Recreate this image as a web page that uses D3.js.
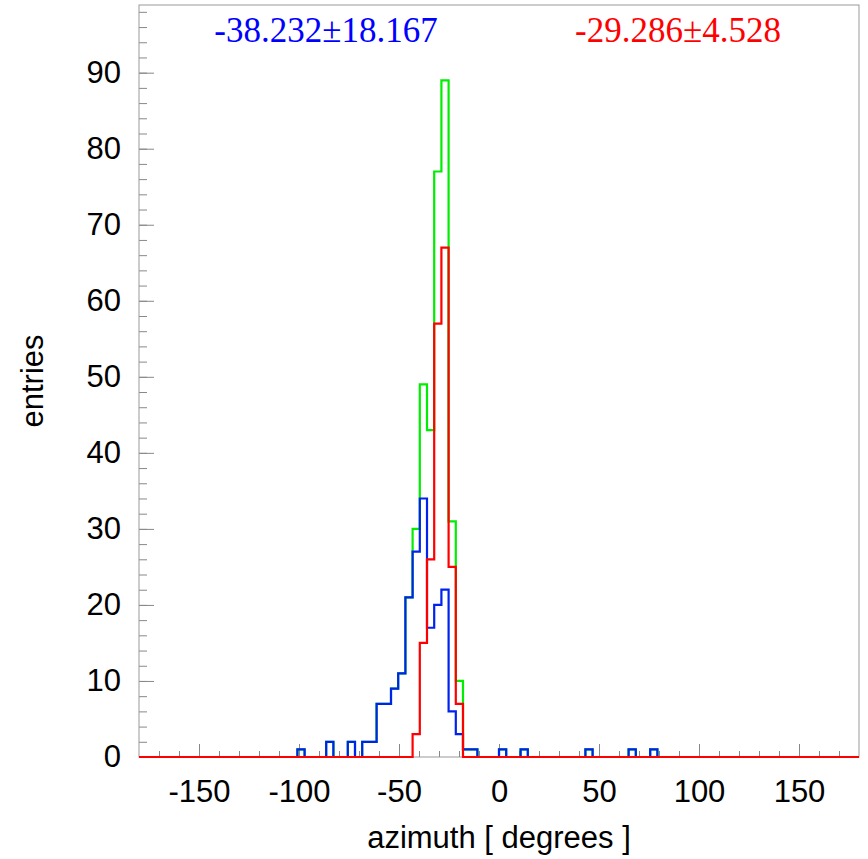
<!DOCTYPE html>
<meta charset="utf-8">
<style>
body { margin: 0; background: #fff; }
.axis text { font: 31px "Liberation Sans", Arial, sans-serif; fill: #000; }
.axis line { stroke: #888; stroke-width: 1px; }
.axis path { display: none; }
.hist { fill: none; stroke-width: 2.2px; }
</style>
<body>
<script src="https://cdnjs.cloudflare.com/ajax/libs/d3/7.8.5/d3.min.js"></script>
<script>

// 100 bins of 3.6 degrees from -180 to 180
var binLow = -180, binWidth = 3.6;

// entries per bin (bins 0..99)
var blueCounts = [
  0,0,0,0,0, 0,0,0,0,0, 0,0,0,0,0, 0,0,0,0,0,
  0,0,1,0,0, 0,2,0,0,2, 0,2,2,7,7, 9,11,21,27,34,
  17,20,22,6,3, 1,1,0,0,0, 1,0,0,1,0, 0,0,0,0,0,
  0,0,1,0,0, 0,0,0,1,0, 0,1,0,0,0, 0,0,0,0,0,
  0,0,0,0,0, 0,0,0,0,0, 0,0,0,0,0, 0,0,0,0,0
];
var redCounts = [
  0,0,0,0,0, 0,0,0,0,0, 0,0,0,0,0, 0,0,0,0,0,
  0,0,0,0,0, 0,0,0,0,0, 0,0,0,0,0, 0,0,0,3,15,
  26,57,67,25,7, 0,0,0,0,0, 0,0,0,0,0, 0,0,0,0,0,
  0,0,0,0,0, 0,0,0,0,0, 0,0,0,0,0, 0,0,0,0,0,
  0,0,0,0,0, 0,0,0,0,0, 0,0,0,0,0, 0,0,0,0,0
];
var greenCounts = [
  0,0,0,0,0, 0,0,0,0,0, 0,0,0,0,0, 0,0,0,0,0,
  0,0,1,0,0, 0,2,0,0,2, 0,2,2,7,7, 9,11,21,30,49,
  43,77,89,31,10, 1,1,0,0,0, 1,0,0,1,0, 0,0,0,0,0,
  0,0,1,0,0, 0,0,0,1,0, 0,1,0,0,0, 0,0,0,0,0,
  0,0,0,0,0, 0,0,0,0,0, 0,0,0,0,0, 0,0,0,0,0
];

var xMajor = [-150, -100, -50, 0, 50, 100, 150];
var yMajor = [0, 10, 20, 30, 40, 50, 60, 70, 80, 90];

var blueLabel = "-38.232\u00b118.167";
var redLabel = "-29.286\u00b14.528";

var W = 868, H = 859;
var margin = {top: 5, right: 9, bottom: 102, left: 139},
    width = W - margin.left - margin.right,
    height = H - margin.top - margin.bottom;

var x = d3.scaleLinear().domain([-180, 180]).range([0, width]);
var y = d3.scaleLinear().domain([0, 98.9]).range([height, 0]);

// plain hyphen for negatives, like the original
var fmt = function(d) { return String(d); };

var svg = d3.select("body").append("svg")
    .attr("width", W)
    .attr("height", H);

var g = svg.append("g")
    .attr("transform", "translate(" + margin.left + "," + margin.top + ")");

// minor ticks
g.append("g")
    .attr("class", "axis")
    .attr("transform", "translate(0," + height + ")")
    .call(d3.axisBottom(x).tickValues(d3.range(-170, 171, 10)).tickSize(-6).tickFormat(""));
g.append("g")
    .attr("class", "axis")
    .call(d3.axisLeft(y).tickValues(d3.range(0, 99, 2)).tickSize(-8).tickFormat(""));

// major ticks + labels
g.append("g")
    .attr("class", "axis")
    .attr("transform", "translate(0," + height + ")")
    .call(d3.axisBottom(x).tickValues(xMajor).tickSize(-13).tickPadding(23).tickFormat(fmt));
g.append("g")
    .attr("class", "axis")
    .call(d3.axisLeft(y).tickValues(yMajor).tickSize(-15).tickPadding(18).tickFormat(fmt));

// frame
g.append("rect")
    .attr("width", width)
    .attr("height", height)
    .attr("fill", "none")
    .attr("stroke", "#999")
    .attr("stroke-width", 1);

var step = d3.line()
    .x(function(d) { return x(d[0]); })
    .y(function(d) { return y(d[1]); })
    .curve(d3.curveStepAfter);

function histPoints(counts) {
  var pts = counts.map(function(c, i) { return [binLow + i * binWidth, c]; });
  pts.push([binLow + counts.length * binWidth, counts[counts.length - 1]]);
  return pts;
}

[[greenCounts, "#00ee00"], [blueCounts, "#0022ee"], [redCounts, "#ff0000"]].forEach(function(s) {
  g.append("path")
      .attr("class", "hist")
      .attr("stroke", s[1])
      .attr("d", step(histPoints(s[0])));
});

// axis titles
svg.append("text")
    .attr("x", margin.left + width / 2)
    .attr("y", 848)
    .attr("text-anchor", "middle")
    .style("font", "31px 'Liberation Sans', Arial, sans-serif")
    .text("azimuth [ degrees ]");

svg.append("text")
    .attr("transform", "translate(43," + (margin.top + height / 2) + ") rotate(-90)")
    .attr("text-anchor", "middle")
    .style("font", "31px 'Liberation Sans', Arial, sans-serif")
    .text("entries");

// fit results
svg.append("text")
    .attr("x", 326).attr("y", 42)
    .attr("text-anchor", "middle")
    .attr("fill", "#0000ff")
    .style("font", "35px 'Liberation Serif', 'Times New Roman', serif")
    .text(blueLabel);

svg.append("text")
    .attr("x", 678).attr("y", 42)
    .attr("text-anchor", "middle")
    .attr("fill", "#ff0000")
    .style("font", "35px 'Liberation Serif', 'Times New Roman', serif")
    .text(redLabel);

</script>
</body>
